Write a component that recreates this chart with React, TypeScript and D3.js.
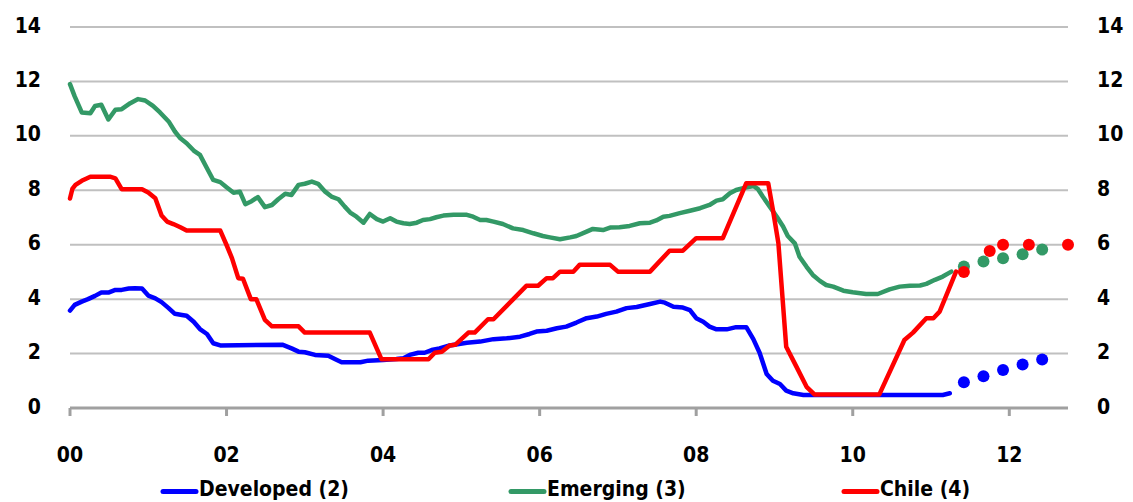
import React from "react";
import * as d3 from "d3";

// Policy rates, % — x is years since Jan 2000
const developed: [number, number][] = [
  [0, 3.58], [0.06, 3.79], [0.15, 3.91], [0.23, 4.0], [0.32, 4.12], [0.4, 4.24], [0.49, 4.24],
  [0.58, 4.34], [0.66, 4.34], [0.75, 4.39], [0.83, 4.4], [0.92, 4.39], [1.0, 4.13], [1.09, 4.03],
  [1.17, 3.89], [1.26, 3.67], [1.34, 3.46], [1.43, 3.42], [1.49, 3.39], [1.58, 3.17], [1.66, 2.9],
  [1.75, 2.72], [1.83, 2.38], [1.92, 2.3], [2.72, 2.32], [2.83, 2.19], [2.92, 2.07], [3.0, 2.05],
  [3.13, 1.95], [3.3, 1.92], [3.39, 1.79], [3.47, 1.68], [3.71, 1.68], [3.81, 1.74], [4.0, 1.76],
  [4.17, 1.8], [4.26, 1.83], [4.34, 1.95], [4.45, 2.03], [4.53, 2.03], [4.62, 2.13], [4.72, 2.19],
  [4.85, 2.3], [5.07, 2.4], [5.24, 2.44], [5.41, 2.53], [5.58, 2.56], [5.75, 2.62], [5.87, 2.72],
  [5.96, 2.81], [6.09, 2.84], [6.22, 2.93], [6.34, 2.99], [6.47, 3.14], [6.6, 3.3], [6.73, 3.36],
  [6.85, 3.46], [6.98, 3.54], [7.11, 3.67], [7.24, 3.71], [7.41, 3.82], [7.54, 3.91], [7.6, 3.87],
  [7.71, 3.72], [7.83, 3.69], [7.92, 3.6], [8.0, 3.3], [8.09, 3.17], [8.17, 2.99], [8.26, 2.89],
  [8.39, 2.89], [8.51, 2.97], [8.64, 2.97], [8.73, 2.53], [8.81, 2.03], [8.9, 1.25], [8.98, 1.0],
  [9.07, 0.88], [9.15, 0.64], [9.24, 0.54], [9.37, 0.48], [11.15, 0.48], [11.24, 0.54],
];

const emerging: [number, number][] = [
  [0, 11.9], [0.06, 11.45], [0.15, 10.86], [0.26, 10.83], [0.32, 11.1], [0.4, 11.14], [0.49, 10.6],
  [0.58, 10.96], [0.66, 10.98], [0.77, 11.2], [0.87, 11.35], [0.96, 11.3], [1.06, 11.1], [1.15, 10.86],
  [1.26, 10.53], [1.34, 10.16], [1.41, 9.91], [1.49, 9.73], [1.58, 9.46], [1.66, 9.3], [1.75, 8.81],
  [1.83, 8.38], [1.92, 8.3], [2.0, 8.11], [2.09, 7.91], [2.17, 7.95], [2.24, 7.49], [2.32, 7.6],
  [2.4, 7.75], [2.49, 7.38], [2.58, 7.46], [2.66, 7.67], [2.75, 7.87], [2.83, 7.83], [2.92, 8.2],
  [3.0, 8.24], [3.09, 8.32], [3.17, 8.24], [3.26, 7.95], [3.34, 7.77], [3.43, 7.67], [3.51, 7.4],
  [3.58, 7.18], [3.66, 7.03], [3.75, 6.81], [3.83, 7.13], [3.92, 6.94], [4.0, 6.85], [4.09, 6.97],
  [4.17, 6.85], [4.26, 6.79], [4.34, 6.76], [4.43, 6.81], [4.51, 6.91], [4.6, 6.94], [4.68, 7.01],
  [4.77, 7.07], [4.9, 7.1], [5.07, 7.1], [5.15, 7.03], [5.24, 6.91], [5.32, 6.91], [5.41, 6.85],
  [5.53, 6.76], [5.66, 6.6], [5.79, 6.54], [5.92, 6.42], [6.04, 6.32], [6.13, 6.27], [6.26, 6.2],
  [6.39, 6.27], [6.47, 6.32], [6.6, 6.48], [6.68, 6.58], [6.81, 6.54], [6.9, 6.63], [7.02, 6.64],
  [7.15, 6.69], [7.28, 6.79], [7.41, 6.81], [7.49, 6.89], [7.58, 7.03], [7.66, 7.06], [7.79, 7.16],
  [7.92, 7.25], [8.05, 7.34], [8.17, 7.46], [8.26, 7.62], [8.34, 7.67], [8.43, 7.89], [8.51, 8.01],
  [8.6, 8.08], [8.73, 8.16], [8.79, 8.04], [8.85, 7.77], [8.94, 7.4], [9.03, 7.03], [9.11, 6.67],
  [9.17, 6.32], [9.26, 6.05], [9.32, 5.56], [9.41, 5.19], [9.49, 4.89], [9.58, 4.67], [9.66, 4.52],
  [9.75, 4.46], [9.88, 4.31], [10.0, 4.25], [10.17, 4.19], [10.32, 4.19], [10.47, 4.36], [10.6, 4.46],
  [10.73, 4.49], [10.86, 4.5], [10.94, 4.56], [11.05, 4.71], [11.15, 4.83], [11.26, 5.01],
];

const chile: [number, number][] = [
  [0, 7.7], [0.03, 8.05], [0.07, 8.2], [0.15, 8.35], [0.26, 8.5], [0.51, 8.5], [0.58, 8.44],
  [0.66, 8.04], [0.92, 8.04], [1.0, 7.92], [1.09, 7.71], [1.17, 7.07], [1.24, 6.85], [1.32, 6.76],
  [1.41, 6.64], [1.49, 6.52], [1.92, 6.52], [2.0, 5.99], [2.07, 5.5], [2.15, 4.77], [2.21, 4.75],
  [2.31, 4.0], [2.38, 4.0], [2.49, 3.24], [2.58, 3.0], [2.92, 3.0], [3.0, 2.77], [3.83, 2.77],
  [3.98, 1.79], [4.58, 1.79], [4.66, 2.03], [4.75, 2.07], [4.85, 2.3], [4.92, 2.32], [5.09, 2.77],
  [5.17, 2.77], [5.34, 3.26], [5.41, 3.26], [5.83, 4.49], [5.98, 4.49], [6.09, 4.77], [6.17, 4.77],
  [6.26, 5.01], [6.43, 5.01], [6.51, 5.26], [6.9, 5.26], [7.0, 5.01], [7.41, 5.01], [7.66, 5.78],
  [7.83, 5.78], [8.0, 6.24], [8.34, 6.24], [8.64, 8.26], [8.92, 8.26], [8.98, 7.28], [9.05, 6.06],
  [9.15, 2.25], [9.28, 1.52], [9.41, 0.78], [9.51, 0.5], [10.34, 0.5], [10.66, 2.5], [10.77, 2.77],
  [10.94, 3.3], [11.03, 3.3], [11.11, 3.54], [11.32, 5.01],
];

// Expected rates (forecast points)
const developedForecast: [number, number][] = [
  [11.42, 0.95], [11.67, 1.17], [11.92, 1.4], [12.17, 1.6], [12.42, 1.78],
];
const emergingForecast: [number, number][] = [
  [11.42, 5.2], [11.67, 5.38], [11.92, 5.5], [12.17, 5.65], [12.42, 5.82],
];
const chileForecast: [number, number][] = [
  [11.42, 5.0], [11.75, 5.77], [11.92, 6.0], [12.25, 6.0], [12.75, 6.0],
];

const yTicks = [0, 2, 4, 6, 8, 10, 12, 14];
const xTicks = [0, 2, 4, 6, 8, 10, 12];
const xTickLabels = ["00", "02", "04", "06", "08", "10", "12"];

const series = [
  { name: "Developed (2)", color: "#0000ff", line: developed, dots: developedForecast, legendX: 163 },
  { name: "Emerging (3)", color: "#339966", line: emerging, dots: emergingForecast, legendX: 511 },
  { name: "Chile (4)", color: "#ff0000", line: chile, dots: chileForecast, legendX: 844 },
];

const W = 1133;
const H = 502;
const FONT = "'DejaVu Sans Condensed', 'DejaVu Sans', sans-serif";

export default function App() {
  const x = d3.scaleLinear().domain([0, 12.75]).range([70, 1068]);
  const y = d3.scaleLinear().domain([0, 14]).range([408, 27]);
  const line = d3
    .line<[number, number]>()
    .x((d) => x(d[0]))
    .y((d) => y(d[1]));

  return (
    <svg
      width={W}
      height={H}
      style={{ position: "absolute", left: 0, top: 0, background: "#fff" }}
      fontFamily={FONT}
      fontWeight="bold"
    >
      {/* horizontal grid */}
      {yTicks.filter((t) => t > 0).map((t) => (
        <line key={t} x1={x(0)} x2={x(12.75)} y1={y(t)} y2={y(t)} stroke="#c0c0c0" strokeWidth={2} />
      ))}
      {/* x axis */}
      <line x1={x(0)} x2={x(12.75)} y1={y(0)} y2={y(0)} stroke="#a0a0a0" strokeWidth={3} />
      {xTicks.map((t) => (
        <line key={t} x1={x(t)} x2={x(t)} y1={y(0)} y2={y(0) + 8} stroke="#a0a0a0" strokeWidth={3} />
      ))}
      {xTicks.map((t, i) => (
        <text key={t} x={x(t)} y={462} textAnchor="middle" fontSize={21} fill="#000">
          {xTickLabels[i]}
        </text>
      ))}
      {/* y labels, left and right */}
      {yTicks.map((t) => (
        <text key={"l" + t} x={41} y={y(t) + 5.5} textAnchor="end" fontSize={21} fill="#000">
          {t}
        </text>
      ))}
      {yTicks.map((t) => (
        <text key={"r" + t} x={1097} y={y(t) + 5.5} textAnchor="start" fontSize={21} fill="#000">
          {t}
        </text>
      ))}
      {/* series lines */}
      {series.map((s) => (
        <path
          key={s.name}
          d={line(s.line) || ""}
          fill="none"
          stroke={s.color}
          strokeWidth={4.5}
          strokeLinejoin="round"
          strokeLinecap="round"
        />
      ))}
      {/* forecast points */}
      {series.map((s) =>
        s.dots.map((d, i) => (
          <circle key={s.name + i} cx={x(d[0])} cy={y(d[1])} r={6} fill={s.color} />
        ))
      )}
      {/* legend */}
      {series.map((s) => (
        <g key={"lg" + s.name}>
          <line
            x1={s.legendX}
            x2={s.legendX + 33}
            y1={491.5}
            y2={491.5}
            stroke={s.color}
            strokeWidth={5}
            strokeLinecap="round"
          />
          <text x={s.legendX + 36} y={496} fontSize={21} fill="#000">
            {s.name}
          </text>
        </g>
      ))}
    </svg>
  );
}
